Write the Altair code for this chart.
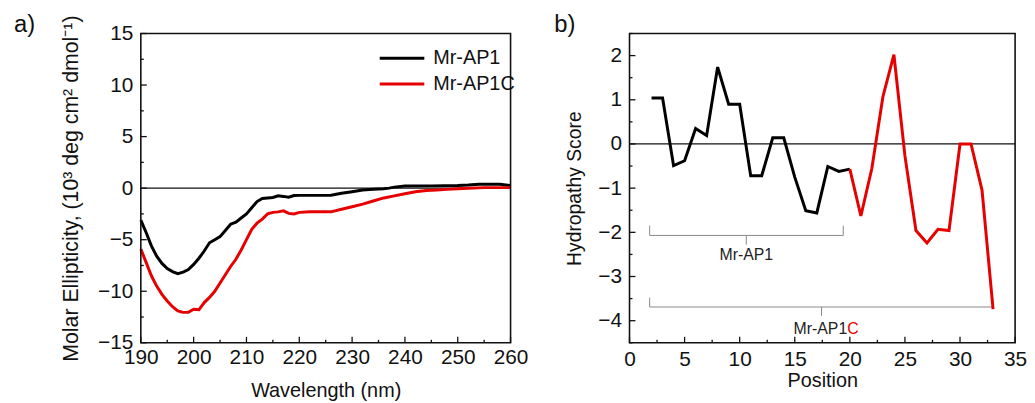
import altair as alt
import pandas as pd

FONT = "Liberation Sans"
BLACK = "#000000"
RED = "#e60000"

# ---------------- panel a) CD spectra ----------------
wl_ap1 = [190, 191, 192, 193, 194, 195, 196, 197, 198, 199, 200, 201, 202, 203, 204,
          205, 206, 207, 208, 209, 210, 211, 212, 213, 214, 215, 216, 217, 218, 219,
          220, 222, 224, 226, 228, 230, 232, 234, 236, 237, 238, 240, 245, 250, 252,
          254, 258, 260]
cd_ap1 = [-3.1, -4.3, -5.6, -6.6, -7.3, -7.8, -8.1, -8.3, -8.15, -7.9, -7.4, -6.8, -6.1,
          -5.3, -5.0, -4.7, -4.1, -3.5, -3.3, -2.9, -2.5, -1.9, -1.3, -1.0, -0.95, -0.9,
          -0.75, -0.8, -0.88, -0.72, -0.7, -0.7, -0.7, -0.68, -0.5, -0.35, -0.18, -0.1,
          -0.05, 0.0, 0.1, 0.2, 0.22, 0.25, 0.3, 0.38, 0.38, 0.25]

wl_ap1c = [190, 191, 192, 193, 194, 195, 196, 197, 198, 199, 200, 201, 202, 203, 204,
           205, 206, 207, 208, 209, 210, 211, 212, 213, 214, 215, 216, 217, 218, 219,
           220, 222, 224, 226, 228, 230, 232, 234, 236, 238, 240, 242, 244, 246, 248,
           250, 252, 255, 260]
cd_ap1c = [-5.9, -7.2, -8.5, -9.5, -10.3, -10.95, -11.5, -11.9, -12.05, -12.05, -11.75,
           -11.8, -11.1, -10.6, -10.0, -9.2, -8.4, -7.6, -6.9, -6.0, -5.0, -4.0, -3.4,
           -3.0, -2.5, -2.35, -2.3, -2.2, -2.45, -2.5, -2.35, -2.3, -2.3, -2.3, -2.05,
           -1.8, -1.55, -1.25, -0.95, -0.75, -0.55, -0.35, -0.22, -0.18, -0.12, -0.05,
           0.0, 0.05, 0.05]

series_names = ["Mr-AP1", "Mr-AP1C"]

a_x_major = [190, 200, 210, 220, 230, 240, 250, 260]
a_x_minor = [195, 205, 215, 225, 235, 245, 255]
a_y_major = [-15, -10, -5, 0, 5, 10, 15]
a_y_minor = [-12.5, -7.5, -2.5, 2.5, 7.5, 12.5]

# ---------------- panel b) hydropathy ----------------
pos_ap1 = list(range(2, 21))
hyd_ap1 = [1.04, 1.04, -0.49, -0.38, 0.35, 0.19, 1.74, 0.90, 0.90, -0.72, -0.72,
           0.14, 0.14, -0.75, -1.51, -1.56, -0.51, -0.62, -0.57]
pos_ext = list(range(20, 34))
hyd_ext = [-0.57, -1.63, -0.55, 1.07, 2.02, -0.27, -1.96, -2.24, -1.93, -1.96,
           0.0, 0.0, -1.05, -3.74]

b_x_major = [0, 5, 10, 15, 20, 25, 30, 35]
b_x_minor = [2.5, 7.5, 12.5, 17.5, 22.5, 27.5, 32.5]
b_y_major = [-4, -3, -2, -1, 0, 1, 2]
b_y_minor = [-4.5, -3.5, -2.5, -1.5, -0.5, 0.5, 1.5, 2.5]

# brackets (residue ranges) : start, end, centre, top of ends, bar level, centre tip
br_start = [1.83, 1.83]
br_end = [19.4, 32.97]
br_mid = [10.6, 17.43]
br_top = [-1.85, -3.48]
br_bar = [-2.07, -3.69]
br_tip = [-2.28, -3.89]
br_label_y = [-2.52, -4.18]

W1, W2, H = 373, 389, 312
MAJ, MIN = 6, 3
LFS = 21   # tick labels
TFS = 20   # axis titles
INK = "#111111"

# ---------- panel a ----------
cd_df = pd.DataFrame({
    "x": wl_ap1 + wl_ap1c,
    "y": cd_ap1 + cd_ap1c,
    "series": [series_names[0]] * len(wl_ap1) + [series_names[1]] * len(wl_ap1c),
})
xs_a = alt.Scale(domain=[190, 260], nice=False, zero=False)
ys_a = alt.Scale(domain=[-15, 15], nice=False, zero=False)

axis_common = dict(labelFont=FONT, labelFontSize=LFS, labelColor=INK,
                   titleFont=FONT, titleColor=INK,
                   titleFontWeight="normal", ticks=False, domain=False, grid=False,
                   labelOverlap=False, labelFlush=False)

a_lines = alt.Chart(cd_df).mark_line(strokeWidth=3).encode(
    x=alt.X("x:Q", scale=xs_a, axis=alt.Axis(values=a_x_major, title="Wavelength (nm)",
                                             titleFontSize=TFS,
                                             labelPadding=4, titlePadding=13, **axis_common)),
    y=alt.Y("y:Q", scale=ys_a, axis=alt.Axis(values=a_y_major,
                                             title="Molar Ellipticity, (10³ deg cm² dmol⁻¹)",
                                             titleFontSize=21.5,
                                             labelPadding=8, titlePadding=15, **axis_common)),
    color=alt.Color("series:N", scale=alt.Scale(domain=series_names, range=[BLACK, RED]),
                    legend=None),
    order=alt.Order("x:Q"),
)

def frame(w, h):
    return alt.Chart(pd.DataFrame({"f": [0]})).mark_rect(
        filled=False, stroke=INK, strokeWidth=1.6).encode(
        x=alt.value(0), x2=alt.value(w), y=alt.value(0), y2=alt.value(h))

zero_a = alt.Chart(pd.DataFrame({"y": [0]})).mark_rule(color=INK, strokeWidth=1.2).encode(
    y="y:Q")

def xticks(values, size, h):
    return alt.Chart(pd.DataFrame({"x": values})).mark_rule(color=INK, strokeWidth=1.3).encode(
        x="x:Q", y=alt.value(h), y2=alt.value(h - size))

def yticks(values, size):
    return alt.Chart(pd.DataFrame({"y": values})).mark_rule(color=INK, strokeWidth=1.3).encode(
        y="y:Q", x=alt.value(0), x2=alt.value(size))

legend_lines = [
    alt.Chart(pd.DataFrame({"s": [series_names[i]]})).mark_rule(
        color=[BLACK, RED][i], strokeWidth=3).encode(
        x=alt.value(241), x2=alt.value(286), y=alt.value(25 + 26 * i))
    for i in range(2)
]
legend_texts = [
    alt.Chart(pd.DataFrame({"s": [series_names[i]]})).mark_text(
        align="left", baseline="middle", font=FONT, fontSize=20, color=INK).encode(
        text="s:N", x=alt.value(295), y=alt.value(25 + 26 * i))
    for i in range(2)
]

label_a = alt.Chart(pd.DataFrame({"t": ["a)"]})).mark_text(
    align="left", baseline="middle", font=FONT, fontSize=24, color=INK).encode(
    text="t:N", x=alt.value(-128), y=alt.value(-9))

panel_a = alt.layer(
    zero_a, a_lines,
    xticks(a_x_major, MAJ, H), xticks(a_x_minor, MIN, H),
    yticks(a_y_major, MAJ), yticks(a_y_minor, MIN),
    *legend_lines, *legend_texts, label_a, frame(W1, H),
).properties(width=W1, height=H)

# ---------- panel b ----------
hyd_df = pd.DataFrame({
    "x": pos_ap1 + pos_ext,
    "y": hyd_ap1 + hyd_ext,
    "series": [series_names[0]] * len(pos_ap1) + [series_names[1]] * len(pos_ext),
})
xs_b = alt.Scale(domain=[0, 35], nice=False, zero=False)
ys_b = alt.Scale(domain=[-4.5, 2.5], nice=False, zero=False)

b_lines = alt.Chart(hyd_df).mark_line(strokeWidth=3).encode(
    x=alt.X("x:Q", scale=xs_b, axis=alt.Axis(values=b_x_major, title="Position",
                                             titleFontSize=TFS,
                                             labelPadding=6, titlePadding=1, **axis_common)),
    y=alt.Y("y:Q", scale=ys_b, axis=alt.Axis(values=b_y_major, title="Hydropathy Score",
                                             titleFontSize=19.5,
                                             labelPadding=8, titlePadding=13, **axis_common)),
    color=alt.Color("series:N", scale=alt.Scale(domain=series_names, range=[BLACK, RED]),
                    legend=None),
    order=alt.Order("x:Q"),
)

zero_b = alt.Chart(pd.DataFrame({"y": [0]})).mark_rule(color=INK, strokeWidth=1.2).encode(
    y="y:Q")

br_df = pd.DataFrame({"x": br_start, "x2": br_end, "m": br_mid, "top": br_top,
                      "bar": br_bar, "tip": br_tip, "ly": br_label_y})
GRAY = "#888888"
br_bar_m = alt.Chart(br_df).mark_rule(color=GRAY, strokeWidth=1).encode(
    x="x:Q", x2="x2:Q", y="bar:Q")
br_left = alt.Chart(br_df).mark_rule(color=GRAY, strokeWidth=1).encode(
    x="x:Q", y="top:Q", y2="bar:Q")
br_right = alt.Chart(br_df).mark_rule(color=GRAY, strokeWidth=1).encode(
    x="x2:Q", y="top:Q", y2="bar:Q")
br_mid_m = alt.Chart(br_df).mark_rule(color=GRAY, strokeWidth=1).encode(
    x="m:Q", y="bar:Q", y2="tip:Q")

lab1 = alt.Chart(pd.DataFrame({"x": [br_mid[0]], "y": [br_label_y[0]], "t": ["Mr-AP1"]})).mark_text(
    align="center", baseline="middle", font=FONT, fontSize=16, color="#222").encode(
    x="x:Q", y="y:Q", text="t:N")
lab2a = alt.Chart(pd.DataFrame({"x": [19.76], "y": [br_label_y[1]], "t": ["Mr-AP1"]})).mark_text(
    align="right", baseline="middle", font=FONT, fontSize=16, color="#222").encode(
    x="x:Q", y="y:Q", text="t:N")
lab2b = alt.Chart(pd.DataFrame({"x": [19.76], "y": [br_label_y[1]], "t": ["C"]})).mark_text(
    align="left", baseline="middle", font=FONT, fontSize=16, color=RED).encode(
    x="x:Q", y="y:Q", text="t:N")

label_b = alt.Chart(pd.DataFrame({"t": ["b)"]})).mark_text(
    align="left", baseline="middle", font=FONT, fontSize=24, color=INK).encode(
    text="t:N", x=alt.value(-76), y=alt.value(-9))

panel_b = alt.layer(
    zero_b, br_bar_m, br_left, br_right, br_mid_m, lab1, lab2a, lab2b, b_lines,
    xticks(b_x_major, MAJ, H), xticks(b_x_minor, MIN, H),
    yticks(b_y_major, MAJ), yticks(b_y_minor, MIN),
    label_b, frame(W2, H),
).properties(width=W2, height=H)

chart = alt.hconcat(panel_a, panel_b, spacing=26).properties(
    padding={"left": 6, "top": 3, "right": 0, "bottom": 0},
    background="white",
).configure_view(strokeWidth=0)

chart.save("out.html", embed_options={"renderer": "svg", "actions": False})
